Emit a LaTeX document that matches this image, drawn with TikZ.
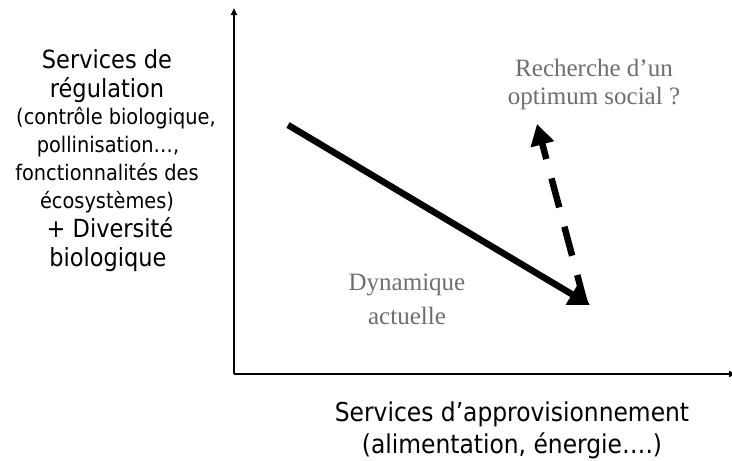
\documentclass[tikz,border=0pt]{standalone}
\usepackage{fontspec}
\setmainfont{Liberation Serif}
\newfontfamily\tah{DejaVu Sans Condensed}
\usetikzlibrary{arrows.meta}
\definecolor{txtgray}{HTML}{6E6E6E}
\tikzset{
  axis/.style={line width=1.8pt},
  big/.style={font=\tah\fontsize{25}{29}\selectfont, anchor=base, inner sep=0pt},
  bottom/.style={font=\tah\fontsize{26}{30}\selectfont, anchor=base, inner sep=0pt},
  small/.style={font=\tah\fontsize{21.5}{25}\selectfont, anchor=base, inner sep=0pt},
  serifgray/.style={font=\fontsize{25}{29}\selectfont, text=txtgray, anchor=base, inner sep=0pt},
  thickarrow/.style={line width=6.5pt, -{Triangle[length=21pt,width=23pt]}},
}
\begin{document}
\begin{tikzpicture}[x=1pt,y=-1pt]
\useasboundingbox (0,0) rectangle (732,461);
% axes
\coordinate (O) at (234,374);
\coordinate (Ytop) at (234,8);
\coordinate (Xend) at (736,374);
\draw[axis, -{Triangle[length=7pt,width=6pt]}] (O) -- (Ytop);
\draw[axis, -{Triangle[length=7pt,width=6pt]}] (O) -- (Xend);
% left label
\node[big] (l1) at (107,68) {Services de};
\node[big] (l2) at (107,97) {régulation};
\node[small] (l3) at (116,124) {(contrôle biologique,};
\node[small] (l4) at (108,152) {pollinisation…,};
\node[small] (l5) at (107,180) {fonctionnalités des};
\node[small] (l6) at (107,208) {écosystèmes)};
\node[big] (l7) at (110,237) {+ Diversité};
\node[big] (l8) at (108,266) {biologique};
% bottom label
\node[bottom] (b1) at (512,421) {Services d’approvisionnement};
\node[bottom] (b2) at (512,453) {(alimentation, énergie….)};
% gray labels
\node[serifgray] (r1) at (594,76) {Recherche d’un};
\node[serifgray] (r2) at (594,104) {optimum social ?};
\node[serifgray] (d1) at (407,290) {Dynamique};
\node[serifgray] (d2) at (407,324) {actuelle};
% arrows
\coordinate (A) at (288,125);
\coordinate (B) at (590,305);
\coordinate (C) at (585,304);
\coordinate (D) at (537,124);
\draw[thickarrow] (A) -- (B);
\draw[thickarrow, dash pattern=on 30pt off 20pt] (C) -- (D);
\end{tikzpicture}
\end{document}
